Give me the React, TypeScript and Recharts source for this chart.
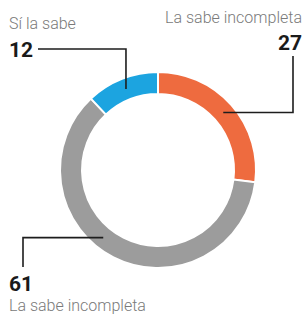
import { PieChart, Pie, Cell } from 'recharts';

const categories = ['La sabe incompleta', 'La sabe incompleta', 'Sí la sabe'];
const values = [27, 61, 12];
const colors = ['#ee6b3f', '#9c9c9c', '#1ca4e0'];

const data = categories.map((name, i) => ({ name, value: values[i] }));

// label callout layout per slice (anchor angle tweak, elbow and text spot)
const callouts = [
  { angleShift: 0, elbowX: 293, endY: 56, textX: 302, anchor: 'end', numY: 50, nameY: 23, dir: 'hv' },
  { angleShift: -12, elbowX: 23, endY: 267, textX: 9, anchor: 'start', numY: 291, nameY: 311, dir: 'hv' },
  { angleShift: 0, elbowX: 38, endY: 49, textX: 9, anchor: 'start', numY: 57, nameY: 29, dir: 'vh' },
];

const RAD = Math.PI / 180;

const renderLabel = (props: any) => {
  const { cx, cy, midAngle, innerRadius, outerRadius, index, value, name } = props;
  const c = callouts[index];
  const r = (innerRadius + outerRadius) / 2;
  const a = (midAngle + c.angleShift) * RAD;
  const x = cx + r * Math.cos(a);
  const y = cy - r * Math.sin(a);
  let pts;
  if (c.dir === 'hv') {
    pts = `${x},${y} ${c.elbowX},${y} ${c.elbowX},${c.endY}`;
  } else {
    pts = `${x},${y} ${x},${c.endY} ${c.elbowX},${c.endY}`;
  }
  return (
    <g key={`lbl-${index}`}>
      <polyline points={pts} fill="none" stroke="#1d1d1d" strokeWidth={1.6} />
      <text x={c.textX} y={c.numY} textAnchor={c.anchor} fontFamily="Roboto" fontWeight={700} fontSize={21} fill="#1a1a1a">
        {value}
      </text>
      <text x={c.textX} y={c.nameY} textAnchor={c.anchor} fontFamily="Roboto" fontWeight={300} fontSize={16} fill="#7a7a7a">
        {name}
      </text>
    </g>
  );
};

export default function App() {
  return (
    <div style={{ position: 'absolute', left: 0, top: 0, width: 307, height: 316, background: '#fff' }}>
      <PieChart width={307} height={316} margin={{ top: 0, right: 0, bottom: 0, left: 0 }}>
        <Pie
          data={data}
          dataKey="value"
          nameKey="name"
          cx={158}
          cy={170}
          innerRadius={76}
          outerRadius={98}
          startAngle={90}
          endAngle={-270}
          stroke="#ffffff"
          strokeWidth={2}
          label={renderLabel}
          labelLine={false}
          isAnimationActive={false}
        >
          {data.map((d, i) => (
            <Cell key={i} fill={colors[i]} />
          ))}
        </Pie>
      </PieChart>
    </div>
  );
}
